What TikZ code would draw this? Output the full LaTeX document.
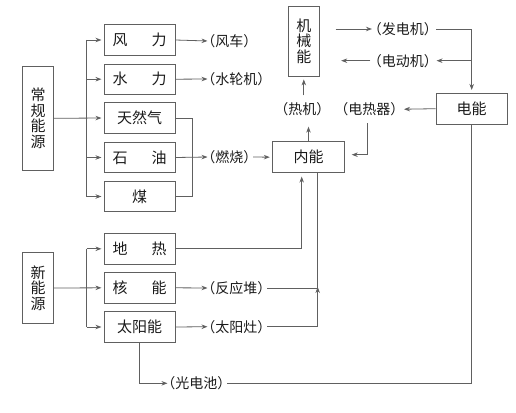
\documentclass[tikz,border=0pt]{standalone}
\usepackage{fontspec}
\setmainfont{Noto Sans CJK SC}
\usetikzlibrary{arrows.meta,calc}
\definecolor{lc}{HTML}{606060}
\definecolor{tc}{HTML}{1A1A1A}
\newcommand\pl[1]{\kern-0.48em（#1）\kern-0.4em}
\begin{document}
\begin{tikzpicture}[x=1pt,y=-1pt,
  line/.style={draw=lc, line width=0.8pt},
  arr/.style={line, -{Stealth[length=6pt,width=4.5pt]}, shorten >=2.5pt},
  box/.style={draw=lc, line width=0.8pt, minimum width=70.7pt, minimum height=30.5pt, inner sep=0pt, font=\fontsize{15}{15.5}\selectfont, text=tc},
  vbox/.style={box, minimum width=30.6pt, align=center},
  lab/.style={inner sep=0pt, font=\fontsize{14}{15}\selectfont, text=tc},
]
\useasboundingbox (0,0) rectangle (516,412);

% boxes
\node[vbox, minimum height=104.7pt] (cg) at (38,118.3) {常\\规\\能\\源};
\node[box] (fl)  at (139.7,40)    {风\hspace{24pt}力};
\node[box] (sl)  at (139.7,79.2)  {水\hspace{24pt}力};
\node[box] (trq) at (139.7,118)   {天然气};
\node[box] (sy)  at (139.7,157.5) {石\hspace{24pt}油};
\node[box] (mei) at (139.7,196.5) {煤};
\node[vbox, minimum height=70.6pt] (xny) at (38,288) {新\\能\\源};
\node[box] (dr)  at (139.7,248.8) {地\hspace{24pt}热};
\node[box] (hn)  at (139.7,287.8) {核\hspace{24pt}能};
\node[box] (tyn) at (139.7,327)   {太阳能};
\node[vbox, minimum width=31pt, minimum height=70pt] (jxn) at (303.8,41) {机\\械\\能};
\node[box, minimum width=71.3pt, minimum height=30.7pt] (dn) at (471.7,108.7) {电能};
\node[box, minimum width=71.6pt, minimum height=31pt] (nn) at (308.5,157.2) {内能};

% labels
\node[lab, anchor=west] (fc)  at (208,41)    {\pl{风车}};
\node[lab, anchor=west] (slj) at (208,79)    {\pl{水轮机}};
\node[lab, anchor=west] (rs)  at (208,157)   {\pl{燃烧}};
\node[lab, anchor=west] (fy)  at (208,288)   {\pl{反应堆}};
\node[lab, anchor=west] (tz)  at (208,326.7) {\pl{太阳灶}};
\node[lab, anchor=west] (gd)  at (168,383.3) {\pl{光电池}};
\node[lab] (fd)  at (403.5,29)   {\pl{发电机}};
\node[lab] (dd)  at (403.5,60.7) {\pl{电动机}};
\node[lab, anchor=west] (rj)  at (281,109.3) {\pl{热机}};
\node[lab, anchor=east] (drq) at (399,109.3) {\pl{电热器}};

\coordinate (tk) at (86.7,0);
\coordinate (br) at (192,0);
\coordinate (v1) at (301.7,0);
\coordinate (v2) at (317.7,0);
\coordinate (dh) at (367.3,123.3);

% conventional sources
\draw[arr] (cg.east) -- (trq.west);
\draw[line] (fl.west -| tk) -- (mei.west -| tk);
\foreach \b in {fl,sl,sy,mei} \draw[arr] (\b.west -| tk) -- (\b.west);
\draw[arr, shorten >=0.5pt] (fl.east) -- (fc.west);
\draw[arr, shorten >=0.5pt] (sl.east) -- (slj.west);
\draw[line] (trq.east) -- (trq.east -| br) -- (mei.east -| br) -- (mei.east);
\draw[arr, shorten >=0.5pt] (sy.east) -- (rs.west);
\draw[arr, shorten <=1pt] (rs.east) -- (nn.west);

% new sources
\draw[arr] (xny.east) -- (hn.west);
\draw[line] (dr.west -| tk) -- (tyn.west -| tk);
\foreach \b in {dr,tyn} \draw[arr] (\b.west -| tk) -- (\b.west);
\draw[arr, shorten >=3.5pt] (dr.east) -| (nn.south -| v1);
\draw[arr, shorten >=0.5pt] (hn.east) -- (fy.west);
\draw[arr, shorten >=0.5pt] (tyn.east) -- (tz.west);
\draw[line, shorten <=1pt] (fy.east) -- (fy.east -| v2);
\draw[line, shorten <=1pt] (tz.east) -| (nn.south -| v2);
\draw[arr, shorten >=-1pt] (tz.east -| v2) -- (fy.east -| v2);
\draw[arr, shorten >=0.5pt] (tyn.south) |- (gd.west);
\draw[line, shorten <=1pt] (gd.east) -| (dn.south);

% energy conversions
\draw[arr] (nn.north) -- ([yshift=-8pt]rj.south -| nn.north);
\draw[arr, shorten >=3pt] ([yshift=7pt]rj.north -| jxn.south) -- (jxn.south);
\draw[arr] ([xshift=16pt]jxn.east |- fd.west) -- (fd.west);
\draw[arr, shorten <=3.5pt, shorten >=0pt] (fd.east) -| ([yshift=3pt]dn.north);
\draw[arr, shorten >=4pt] (dd.east -| dn.north) -- (dd.east);
\draw[arr, shorten <=4pt] (dd.west) -- ([xshift=19pt]jxn.east |- dd.west);
\draw[arr, shorten >=5pt] (dn.west) -- (drq.east);
\draw[arr, shorten >=7pt] (dh) |- ([yshift=2.5pt]nn.east);
\end{tikzpicture}
\end{document}
